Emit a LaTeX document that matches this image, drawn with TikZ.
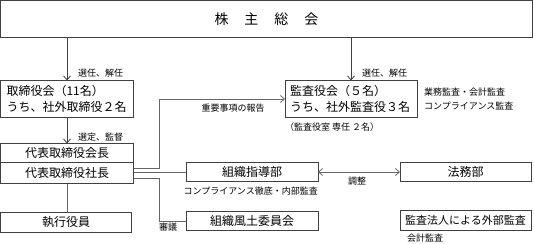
\documentclass[tikz,border=0pt]{standalone}
\usepackage{fontspec}
\newfontfamily\jpfont{Noto Sans CJK JP}
\usetikzlibrary{arrows.meta,positioning}

\begin{document}
\begin{tikzpicture}[
    x=1pt, y=1pt, font=\jpfont\fontsize{12}{16}\selectfont,
    >={Straight Barb[length=4pt,width=7pt]},
    box/.style={draw=black!75, line width=0.8pt, inner sep=0pt, outer sep=0pt, minimum height=19pt, align=center},
    two/.style={box, align=left, minimum height=37pt, inner xsep=6pt, text width=121pt},
    note/.style={inner sep=0pt, font=\jpfont\fontsize{9}{14}\selectfont},
    arr/.style={draw=black!75, line width=0.8pt, ->},
    conn/.style={draw=black!60, line width=0.8pt}]
  \useasboundingbox (0,0) rectangle (534,-243);
  % top and left column
  \node[box, anchor=north west, minimum width=532pt, minimum height=37pt, font=\jpfont\fontsize{14}{16}\selectfont] (gm) at (0.5,-0.5) {株\hspace{16pt}主\hspace{16pt}総\hspace{16pt}会};
  \node[two, below=43pt of gm.south west, anchor=north west] (board) {取締役会（11名）\\うち、社外取締役２名};
  \node[box, below=26pt of board.south west, anchor=north west, minimum width=133pt] (chair) {代表取締役会長};
  \node[box, below=0pt of chair.south west, anchor=north west, minimum width=133pt, minimum height=21pt] (pres) {代表取締役社長};
  \node[box, below=29pt of pres.south west, anchor=north west, minimum width=131pt, minimum height=20pt] (exec) {執行役員};
  % audit side
  \node[two, right=151.5pt of board.north east, anchor=north west, inner xsep=5pt, text width=122pt] (audit) {監査役会（５名）\\うち、社外監査役３名};
  \node[box, right=52.5pt of pres.north east, anchor=north west, minimum width=132pt] (guide) {組織指導部};
  \node[box, right=82pt of guide.north east, anchor=north west, minimum width=131pt] (legal) {法務部};
  \node[box, below=30pt of guide.south west, anchor=north west, minimum width=132pt] (culture) {組織風土委員会};
  \node[box, below=29pt of legal.south west, anchor=north west, minimum width=131pt, minimum height=20pt, font=\jpfont\fontsize{11}{13}\selectfont] (ext) {監査法人による外部監査};
  % labels
  \node[note, anchor=west] (sel1) at (78,-73) {選任、解任};
  \node[note, anchor=west] (sel2) at (362,-73) {選任、解任};
  \node[note, right=7pt of audit.east, anchor=west, align=left] (scope) {業務監査・会計監査\\コンプライアンス監査};
  \node[note, below=5pt of audit.south west, anchor=north west] (staff) {（監査役室 専任 ２名）};
  \node[note] (rep) at (233,-108) {重要事項の報告};
  \node[note, anchor=west] (sel3) at (78,-137) {選定、監督};
  \node[note, below=5pt of guide.south east, anchor=north east] (comp) {コンプライアンス徹底・内部監査};
  \node[note] (adj) at (357,-181) {調整};
  \node[note] (deli) at (168,-227) {審議};
  \node[note, below=3pt of ext.south west, anchor=north west, xshift=7pt] (acct) {会計監査};
  % connectors
  \draw[arr] (gm.south -| board.north) -- (board.north);
  \draw[arr] (gm.south -| audit.north) -- (audit.north);
  \draw[arr] (board.south) -- (chair.north);
  \draw[conn] (pres.south) -- (pres.south |- exec.north);
  \draw[conn, ->] ([yshift=-5.5pt]pres.north east) -- ++(26,0) |- (audit.west);
  \draw[conn] (pres.east |- guide.west) -- (guide.west);
  \draw[conn] ([yshift=5.5pt]pres.south east) -- ++(26,0) |- (culture.west);
  \draw[conn, <->] (guide) -- (legal);
\end{tikzpicture}
\end{document}
